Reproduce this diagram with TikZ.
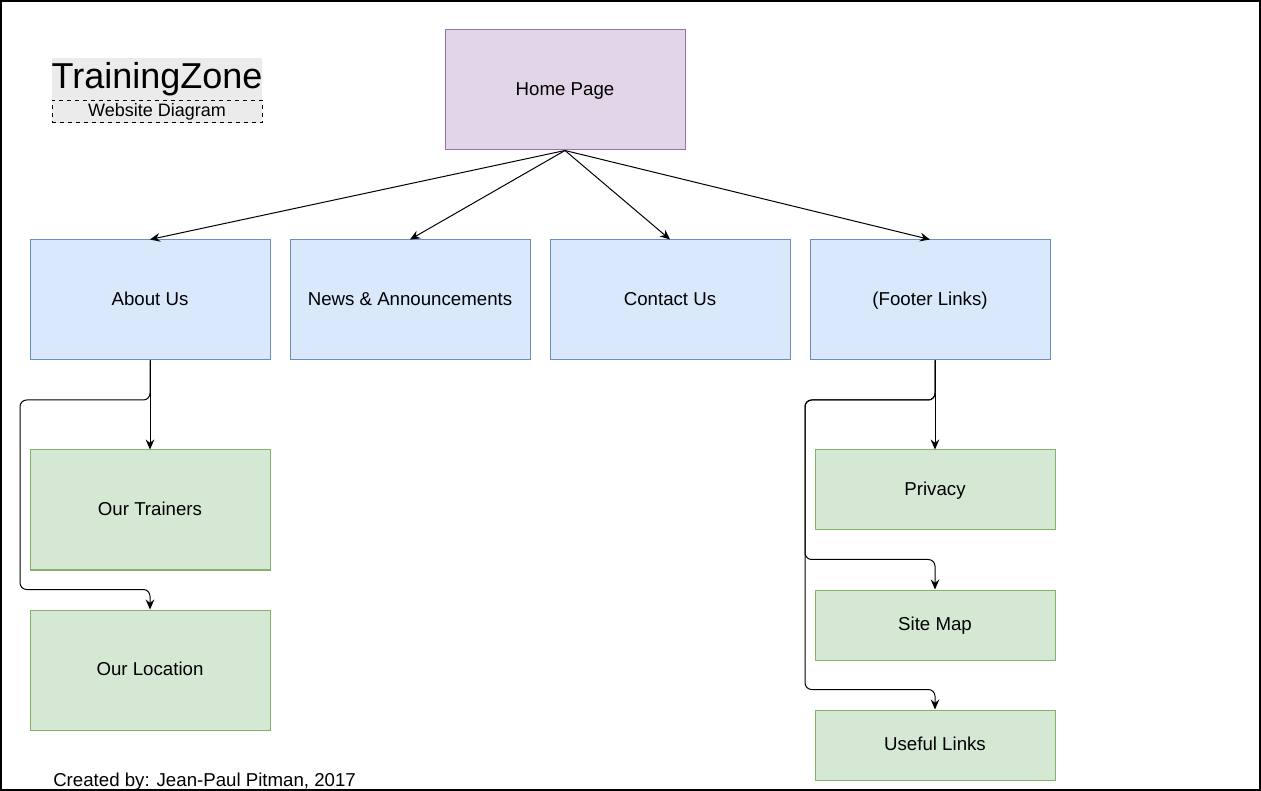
\documentclass[tikz,border=0pt]{standalone}
\usepackage{fontspec}
\setmainfont{Liberation Sans}
\usepackage{tikz}
\usetikzlibrary{arrows.meta}
\definecolor{homefill}{HTML}{E1D5E7}
\definecolor{homedraw}{HTML}{9673A6}
\definecolor{bluefill}{HTML}{DAE8FC}
\definecolor{bluedraw}{HTML}{6C8EBF}
\definecolor{greenfill}{HTML}{D5E8D4}
\definecolor{greendraw}{HTML}{82B366}
\definecolor{titlegray}{HTML}{EBEBEB}

\begin{document}
\begin{tikzpicture}[x=0.75pt,y=-0.75pt,
  page/.style={rectangle,inner sep=0pt,line width=0.75pt,text depth=0.3ex,font=\fontsize{14}{16}\selectfont},
  home/.style={page,fill=homefill,draw=homedraw,minimum width=180pt,minimum height=90pt},
  top/.style={page,fill=bluefill,draw=bluedraw,minimum width=180pt,minimum height=90pt},
  sub/.style={page,fill=greenfill,draw=greendraw,minimum width=180pt},
  link/.style={-{Stealth[length=7.5pt,width=6.5pt,inset=2.5pt]},line width=0.75pt},
  rail/.style={link,rounded corners=5pt}]
\useasboundingbox (0,0) rectangle (1261,791);
\draw[line width=1.2pt] (0.75,0.75) rectangle (1260.25,790.25);
%\title
\path (157,79) node(tz)[rectangle,fill=titlegray,inner sep=0pt,minimum width=157.5pt,minimum height=31.5pt,font=\fontsize{27}{30}\selectfont]{TrainingZone}
(157,111.5) node(wd)[rectangle,fill=titlegray,draw,dashed,line width=0.6pt,inner sep=0pt,minimum width=157.5pt,minimum height=17pt,font=\fontsize{13.5}{15}\selectfont]{Website Diagram}
(53,786) node(cb)[anchor=base west,inner sep=0pt,font=\fontsize{14}{16}\selectfont]{Created by: Jean-Paul Pitman, 2017};
%\pages
\path (565,90) node(h)[home]{Home Page}
(150,300) node(au)[top]{About Us}
(410,300) node(na)[top]{News \& Announcements}
(670,300) node(cu)[top]{Contact Us}
(930,300) node(fl)[top]{(Footer Links)}
(150,510) node(ot)[sub,minimum height=90pt]{Our Trainers}
(150,670) node(ol)[sub,minimum height=90pt]{Our Location}
(935,490) node(pr)[sub,minimum height=60pt]{Privacy}
(935,625) node(sm)[sub,minimum height=52.5pt]{Site Map}
(935,745) node(ul)[sub,minimum height=52.5pt]{Useful Links};
\coordinate (l1) at (20,400);
\coordinate (r1) at (805,400);
\draw[link](h.south)--(au.north);
\draw[link](h.south)--(na.north);
\draw[link](h.south)--(cu.north);
\draw[link](h.south)--(fl.north);
\draw[link](au.south)--(ot.north);
\draw[rail](au.south)|-(l1)|-([yshift=15pt]ol.north)--(ol.north);
\draw[link](pr.north |- fl.south)--(pr.north);
\draw[rail](pr.north |- fl.south)|-(r1)|-([yshift=22.5pt]sm.north)--(sm.north);
\draw[rail](pr.north |- fl.south)|-(r1)|-([yshift=15pt]ul.north)--(ul.north);
\end{tikzpicture}
\end{document}
